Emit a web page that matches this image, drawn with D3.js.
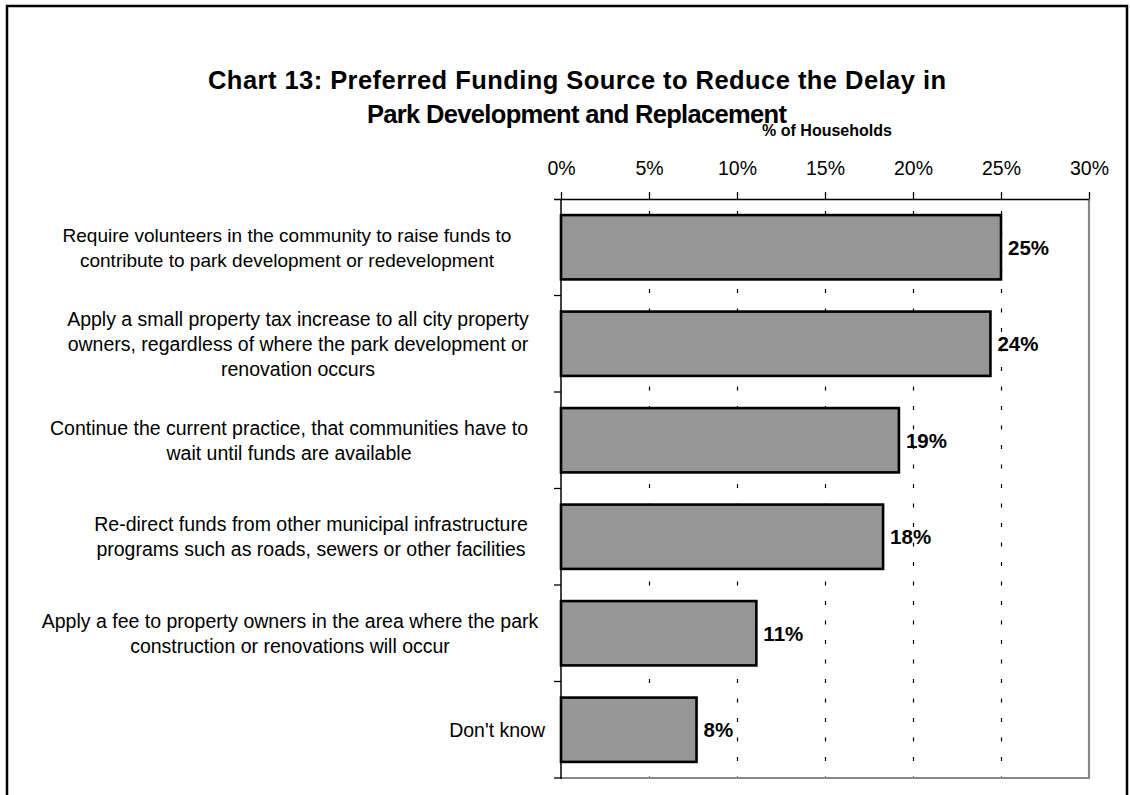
<!DOCTYPE html>
<html>
<head>
<meta charset="utf-8">
<script src="https://cdn.jsdelivr.net/npm/d3@7"></script>
<style>
  html, body { margin: 0; padding: 0; background: #fff; }
  svg { display: block; font-family: "Liberation Sans", Arial, sans-serif; }
</style>
</head>
<body>
<svg id="chart" width="1130" height="795"></svg>
<script>
// ---- data ----
const titleLines = [
  "Chart 13: Preferred Funding Source to Reduce the Delay in",
  "Park Development and Replacement"
];
const axisTitle = "% of Households";
const categoryLines = [
  ["Require volunteers in the community to raise funds to", "contribute to park development or redevelopment"],
  ["Apply a small property tax increase to all city property", "owners, regardless of where the park development or", "renovation occurs"],
  ["Continue the current practice, that communities have to", "wait until funds are available"],
  ["Re-direct funds from other municipal infrastructure", "programs such as roads, sewers or other facilities"],
  ["Apply a fee to property owners in the area where the park", "construction or renovations will occur"],
  ["Don't know"]
];
const categories = categoryLines.map(l => l.join(" "));
const values = [0.250, 0.244, 0.192, 0.183, 0.111, 0.077];
const valueLabels = ["25%", "24%", "19%", "18%", "11%", "8%"];
const tickValues = [0, 0.05, 0.10, 0.15, 0.20, 0.25, 0.30];
const tickLabels = ["0%", "5%", "10%", "15%", "20%", "25%", "30%"];

// ---- layout (positions, not data) ----
const svg = d3.select("#chart");
const plot = { left: 561, right: 1089, top: 199, bottom: 778 };
const titleLayout = [{ x: 577, y: 89, len: 738, size: 25.5 }, { x: 577, y: 123, len: 420, size: 25.5 }];
const labelCenters = [287, 298, 289, 311, 290, null]; // null = right-aligned
const labelSizes = [19, 19.5, 19.5, 19.5, 19.5, 19.5];
const labelRight = 545;
const lineH = 25;

const x = d3.scaleLinear().domain([0, 0.30]).range([plot.left, plot.right]);
const y = d3.scaleBand().domain(categories).range([plot.top, plot.bottom])
  .paddingInner(1/3).paddingOuter(1/6);

// outer frame
svg.append("rect")
  .attr("x", 7).attr("y", 6).attr("width", 1120).attr("height", 900)
  .attr("fill", "none").attr("stroke", "#000").attr("stroke-width", 2.5);

// title
titleLines.forEach((t, i) => {
  svg.append("text")
    .attr("x", titleLayout[i].x).attr("y", titleLayout[i].y)
    .attr("text-anchor", "middle")
    .attr("font-size", titleLayout[i].size).attr("font-weight", "bold").attr("fill", "#000")
    .attr("textLength", titleLayout[i].len).attr("lengthAdjust", "spacing")
    .text(t);
});

// axis title
svg.append("text")
  .attr("x", (plot.left + plot.right) / 2 + 2).attr("y", 136)
  .attr("text-anchor", "middle")
  .attr("font-size", 16).attr("font-weight", "bold")
  .text(axisTitle);

// dashed gridlines
svg.append("g").selectAll("line")
  .data(tickValues.filter(v => v > 0 && v < 0.30))
  .join("line")
  .attr("x1", d => Math.round(x(d)) + 0.5).attr("x2", d => Math.round(x(d)) + 0.5)
  .attr("y1", plot.top).attr("y2", plot.bottom)
  .attr("stroke", "#000").attr("stroke-width", 1.2)
  .attr("stroke-dasharray", "4,15.5")
  .attr("stroke-dashoffset", -12);

// plot area border (right & bottom gray)
svg.append("path")
  .attr("d", `M${plot.right},${plot.top} V${plot.bottom} H${plot.left}`)
  .attr("fill", "none").attr("stroke", "#888").attr("stroke-width", 2.2);

// top axis
const xAxis = d3.axisTop(x)
  .tickValues(tickValues)
  .tickFormat((d, i) => tickLabels[i])
  .tickSize(7).tickSizeOuter(0).tickPadding(17);
const gx = svg.append("g").attr("transform", `translate(0,${plot.top})`).call(xAxis);
gx.select(".domain").attr("stroke", "#000").attr("stroke-width", 1.5)
  .attr("d", `M${plot.left - 7},0.5H${plot.right}`);
gx.selectAll(".tick line").attr("stroke", "#000").attr("stroke-width", 1.3);
gx.selectAll(".tick text")
  .attr("font-size", 19.5).attr("fill", "#000")
  .attr("font-family", "Liberation Sans, Arial, sans-serif");

// left axis line + category boundary ticks
svg.append("line")
  .attr("x1", plot.left).attr("x2", plot.left)
  .attr("y1", plot.top).attr("y2", plot.bottom + 1)
  .attr("stroke", "#000").attr("stroke-width", 1.5);
const step = y.step();
const boundaries = d3.range(categories.length + 1).map(i => plot.top + i * step);
svg.append("g").selectAll("line")
  .data(boundaries.slice(1))
  .join("line")
  .attr("x1", plot.left - 7).attr("x2", plot.left)
  .attr("y1", d => d).attr("y2", d => d)
  .attr("stroke", "#000").attr("stroke-width", 1.3);

// bars
svg.append("g").selectAll("rect")
  .data(values)
  .join("rect")
  .attr("x", x(0))
  .attr("y", (d, i) => y(categories[i]))
  .attr("width", d => x(d) - x(0))
  .attr("height", y.bandwidth())
  .attr("fill", "#969696")
  .attr("stroke", "#000").attr("stroke-width", 2.6);

// value labels
svg.append("g").selectAll("text")
  .data(values)
  .join("text")
  .attr("x", d => x(d) + 7)
  .attr("y", (d, i) => y(categories[i]) + y.bandwidth() / 2)
  .attr("dy", "0.36em")
  .attr("font-size", 20.5).attr("font-weight", "bold")
  .text((d, i) => valueLabels[i]);

// category labels
categoryLines.forEach((lines, i) => {
  const cy = y(categories[i]) + y.bandwidth() / 2;
  const g = svg.append("g");
  const texts = lines.map((t, j) => g.append("text")
    .attr("font-size", labelSizes[i])
    .attr("y", cy + (j - (lines.length - 1) / 2) * lineH)
    .attr("dy", "0.36em")
    .attr("text-anchor", "middle")
    .text(t));
  const maxW = d3.max(texts, t => t.node().getComputedTextLength());
  const cx = labelCenters[i] == null ? labelRight - maxW / 2 : labelCenters[i];
  texts.forEach(t => t.attr("x", cx));
});
</script>
</body>
</html>
